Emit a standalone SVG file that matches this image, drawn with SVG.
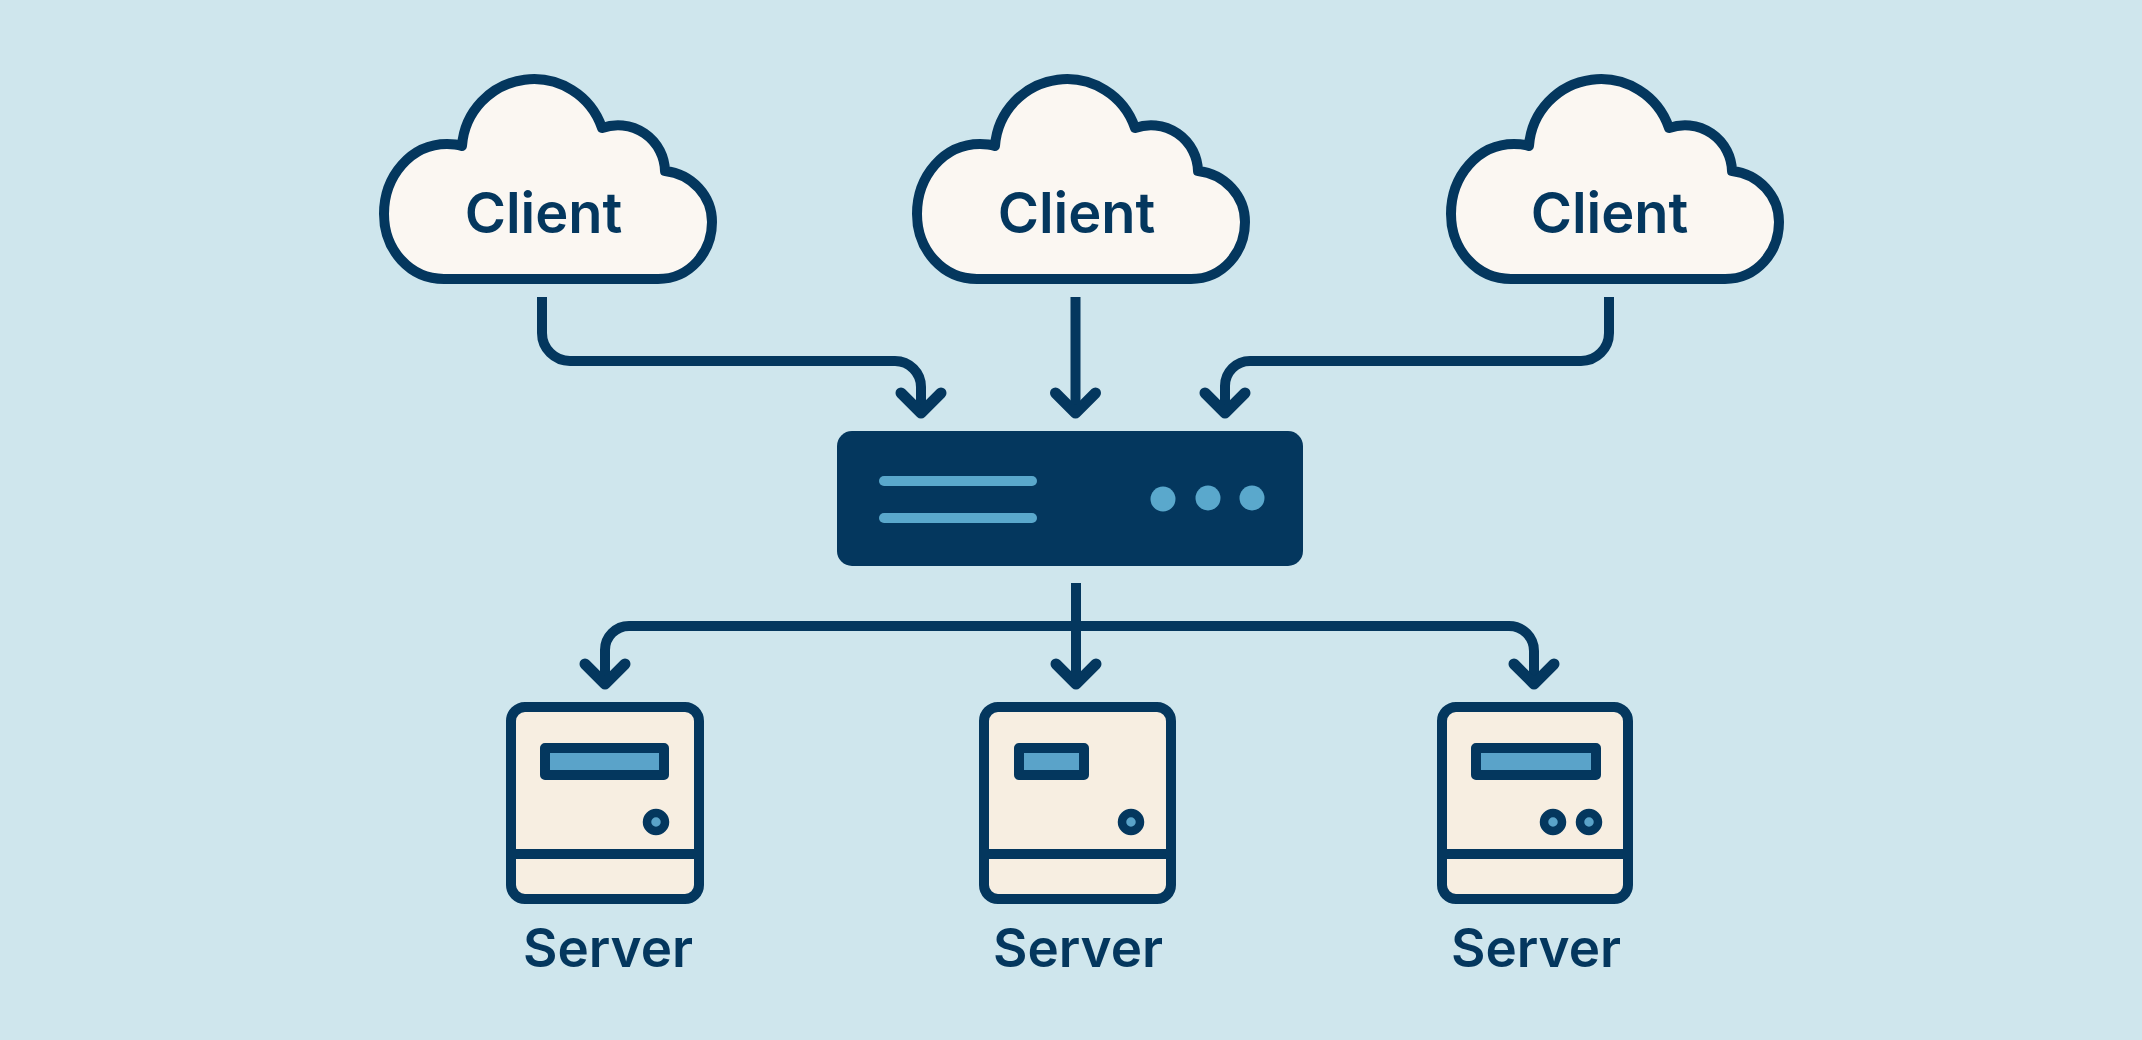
<svg xmlns="http://www.w3.org/2000/svg" width="2142" height="1040" viewBox="0 0 2142 1040">
<style>
.cloud{fill:#fbf7f2;stroke:#04375e;stroke-width:10;stroke-linejoin:round}
.lbl{font-family:Inter,"Liberation Sans",sans-serif;fill:#04375e;text-anchor:middle}
.client{font-size:56px;font-weight:600}
.server-label{font-size:53px;font-weight:600}
.conn{fill:none;stroke:#04375e;stroke-width:10;marker-end:url(#arrow)}
.body{fill:#f7eee1;stroke:#04375e;stroke-width:10}
.div{fill:none;stroke:#04375e;stroke-width:10}
.disp{fill:#5aa3c9;stroke:#04375e;stroke-width:10;stroke-linejoin:round}
.led{fill:#5aa3c9;stroke:#04375e;stroke-width:8.500}
.bar{fill:#5aa8cc}
.dot{fill:#5aa8cc}
</style>
<defs>
<marker id="arrow" markerUnits="userSpaceOnUse" orient="0" overflow="visible" markerWidth="50" markerHeight="30" refX="0" refY="0">
<path d="M-20 -20L0 0L20 -20" fill="none" stroke="#04375e" stroke-width="11" stroke-linecap="round" stroke-linejoin="round"/>
</marker>
<path id="cloud-shape" d="M444 279H658C690 279 712 252 712 222C712 196 692 174 665 171A47 47 0 0 0 602 128A72 72 0 0 0 462 146C456 144 452 144 447 144C411 144 384 176 384 214C384 250 410 279 444 279Z"/>
</defs>
<rect id="background" width="2142" height="1040" fill="#cfe6ed"/>
<g id="connectors">
<path class="conn" d="M542 297V333A28 28 0 0 0 570 361H895A26 26 0 0 1 921 387V413"/>
<path class="conn" d="M1075.500 297V413"/>
<path class="conn" d="M1609 297V333A28 28 0 0 1 1581 361H1250A25 25 0 0 0 1225 386V413"/>
<path class="conn" d="M1076 583V684"/>
<path class="conn" d="M1076 626H629A24 24 0 0 0 605 650V684"/>
<path class="conn" d="M1076 626H1509A25 25 0 0 1 1534 651V684"/>
</g>
<g id="client-1">
<use href="#cloud-shape" class="cloud"/>
<text class="lbl client" x="543.500" y="233">Client</text>
</g>
<g id="client-2">
<use href="#cloud-shape" class="cloud" x="533"/>
<text class="lbl client" x="1076.500" y="233">Client</text>
</g>
<g id="client-3">
<use href="#cloud-shape" class="cloud" x="1067"/>
<text class="lbl client" x="1609.500" y="233">Client</text>
</g>
<g id="load-balancer">
<rect x="837" y="431" width="466" height="135" rx="15" fill="#04375e"/>
<rect class="bar" x="879" y="476" width="158" height="10" rx="5"/>
<rect class="bar" x="879" y="513" width="158" height="10" rx="5"/>
<circle class="dot" cx="1163" cy="499" r="12.500"/>
<circle class="dot" cx="1208" cy="498" r="12.500"/>
<circle class="dot" cx="1252" cy="498" r="12.500"/>
</g>
<g id="server-1">
<rect class="body" x="511" y="707" width="188" height="192" rx="14"/>
<path class="div" d="M511 854H699"/>
<rect class="disp" x="545" y="748" width="119" height="27"/>
<circle class="led" cx="656" cy="822" r="9"/>
<text class="lbl server-label" x="608" y="967">Server</text>
</g>
<g id="server-2">
<rect class="body" x="984" y="707" width="187" height="192" rx="14"/>
<path class="div" d="M984 854H1171"/>
<rect class="disp" x="1019" y="748" width="65" height="27"/>
<circle class="led" cx="1131" cy="822" r="9"/>
<text class="lbl server-label" x="1078" y="967">Server</text>
</g>
<g id="server-3">
<rect class="body" x="1442" y="707" width="186" height="192" rx="14"/>
<path class="div" d="M1442 854H1628"/>
<rect class="disp" x="1476" y="748" width="120" height="27"/>
<circle class="led" cx="1553" cy="822" r="9"/>
<circle class="led" cx="1589" cy="822" r="9"/>
<text class="lbl server-label" x="1536" y="967">Server</text>
</g>
</svg>
